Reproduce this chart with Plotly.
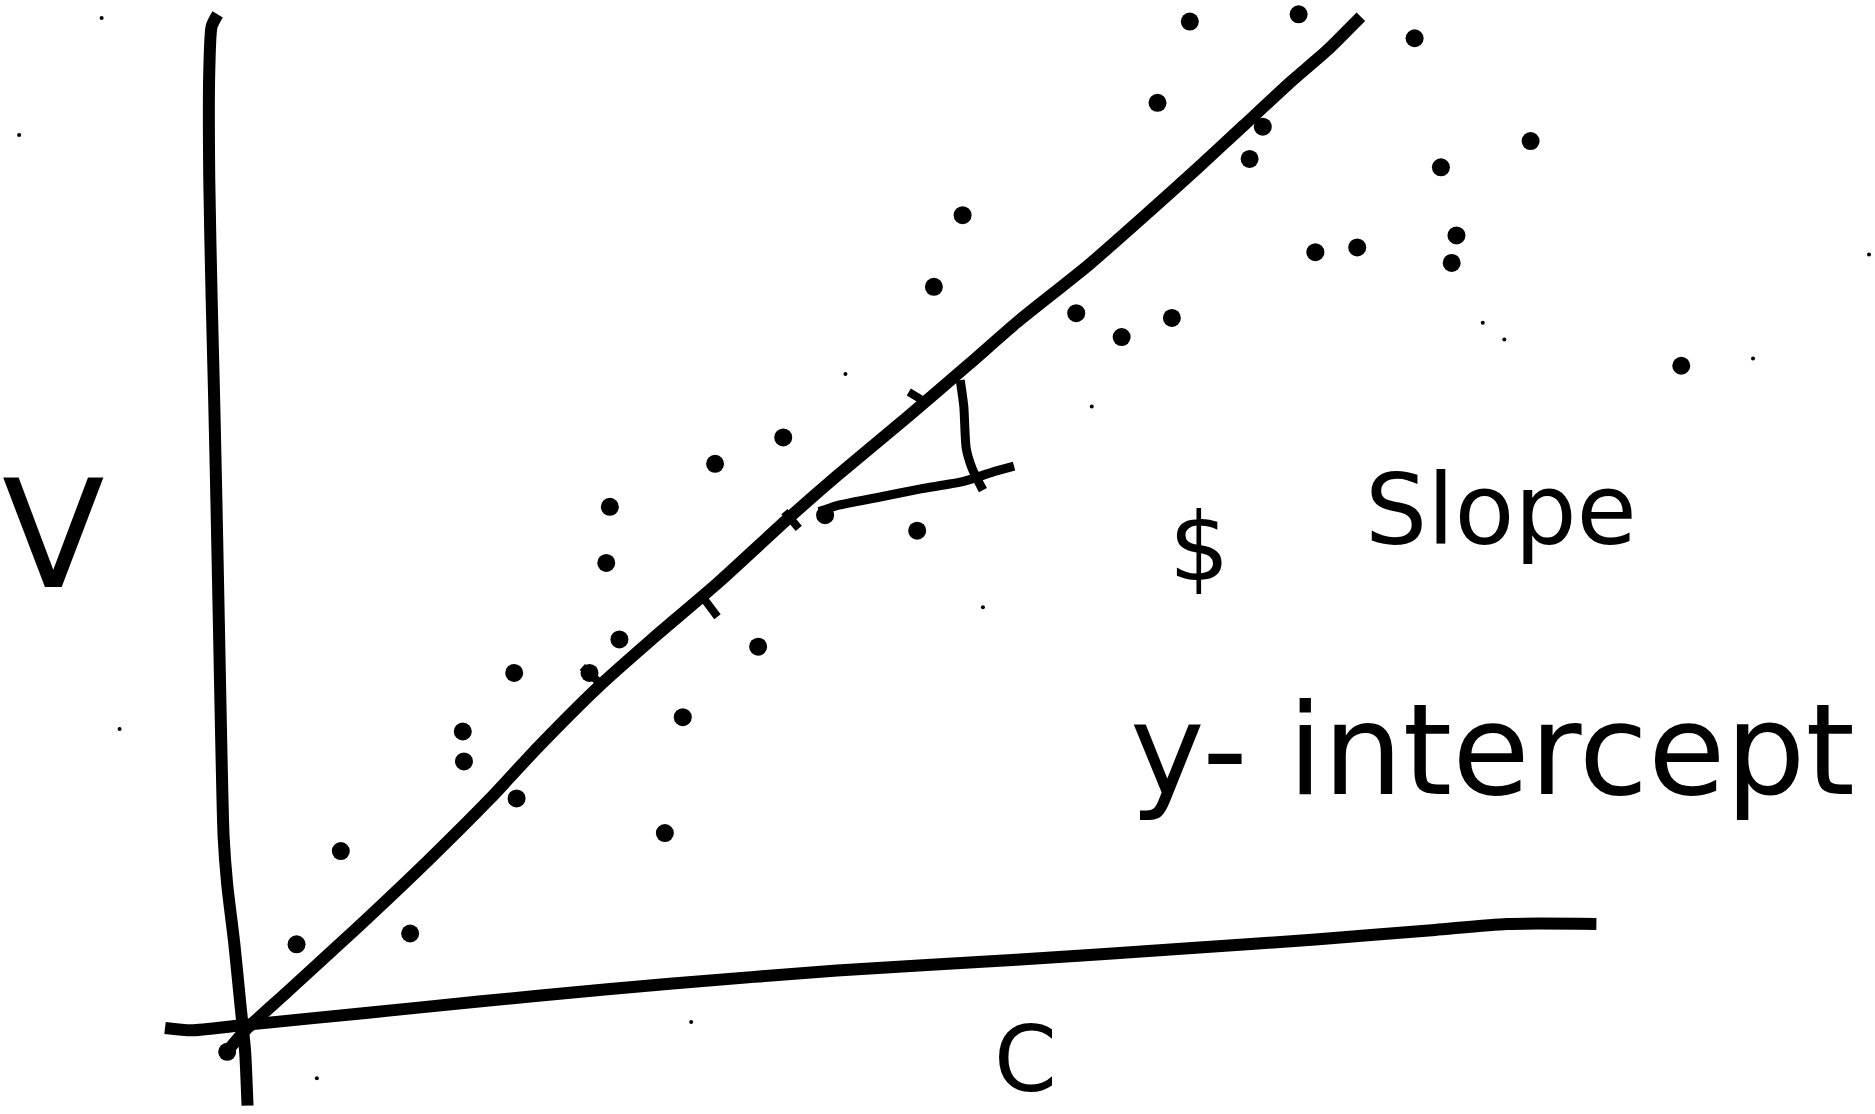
import plotly.graph_objects as go

# Canvas units: 0..1568 across, 0..932 down (y grows downward)
W_UNITS, H_UNITS = 1568, 932

# Hand-drawn vertical axis (V)
axis_v_x = [182, 177, 175, 175, 177, 179, 181, 183, 185, 187, 190, 196, 201, 205, 207]
axis_v_y = [12, 22, 60, 150, 250, 330, 420, 520, 620, 700, 740, 790, 840, 880, 925]

# Hand-drawn horizontal axis (C)
axis_h_x = [138, 160, 200, 260, 350, 450, 560, 700, 850, 1000, 1100, 1200, 1260, 1335]
axis_h_y = [860, 862, 858, 852, 843, 833, 823, 812, 803, 793, 786, 778, 773, 773]

# Best-fit line through the scatter
fit_x = [188, 205, 240, 300, 360, 410, 450, 500, 545, 600, 660, 700, 760, 810, 850,
         910, 960, 1000, 1040, 1080, 1110, 1138]
fit_y = [882, 862, 830, 775, 718, 668, 625, 575, 535, 488, 433, 398, 348, 305, 270,
         222, 178, 142, 105, 68, 42, 14]

# Slope triangle: rise and run strokes
rise_x = [803, 806, 808, 813, 822]
rise_y = [318, 340, 375, 392, 410]
run_x = [848, 830, 805, 770, 735, 700, 685]
run_y = [390, 395, 403, 409, 416, 423, 428]

# Small ticks crossing the fit line
tick_x = [760, 770, None, 588, 600, None, 656, 668, None, 487, 500]
tick_y = [328, 334, None, 500, 516, None, 428, 442, None, 558, 570]

# Measured points
points_x = [995, 1086, 1183, 968, 1056, 1045, 1205, 1280, 805, 781, 1100, 1135, 1218, 1214,
            900, 938, 980, 1406, 655, 598, 510, 507, 518, 634, 430, 493, 571, 387, 388,
            432, 556, 285, 343, 248, 767, 690, 190]
points_y = [18, 12, 32, 86, 106, 133, 140, 118, 180, 240, 211, 207, 197, 220,
            262, 282, 266, 306, 366, 388, 424, 471, 535, 541, 563, 563, 600, 612, 637,
            668, 697, 712, 781, 790, 444, 431, 880]

# Faint specks on the sheet
specks_x = [85, 16, 100, 578, 822, 1563, 1466, 1240, 1258, 913, 707, 265]
specks_y = [15, 113, 610, 855, 508, 213, 300, 270, 284, 340, 313, 902]

# Labels
labels = ["V", "C", "$", "Slope", "y- intercept"]
label_x = [45, 858, 1003, 1255, 1248]
label_y = [448, 886, 458, 427, 628]
label_size = [150, 90, 95, 98, 126]

INK = "#000000"
FONT = "DejaVu Sans, sans-serif"

fig = go.Figure()

def stroke(xs, ys, width):
    fig.add_trace(go.Scatter(
        x=xs, y=ys, mode="lines",
        line=dict(color=INK, width=width, shape="spline", smoothing=0.6),
        hoverinfo="skip", connectgaps=False,
    ))

stroke(axis_v_x, axis_v_y, 12)
stroke(axis_h_x, axis_h_y, 12)
stroke(fit_x, fit_y, 12)
stroke(rise_x, rise_y, 9)
stroke(run_x, run_y, 9)
fig.add_trace(go.Scatter(x=tick_x, y=tick_y, mode="lines",
                         line=dict(color=INK, width=8), hoverinfo="skip"))

fig.add_trace(go.Scatter(x=points_x, y=points_y, mode="markers",
                         marker=dict(color=INK, size=18, line=dict(width=0)),
                         hoverinfo="skip"))
fig.add_trace(go.Scatter(x=specks_x, y=specks_y, mode="markers",
                         marker=dict(color=INK, size=4, line=dict(width=0)),
                         hoverinfo="skip"))

for txt, x, y, s in zip(labels, label_x, label_y, label_size):
    fig.add_annotation(x=x, y=y, text=txt, showarrow=False,
                       xanchor="center", yanchor="middle",
                       font=dict(family=FONT, size=s, color=INK))

fig.update_xaxes(range=[0, W_UNITS], visible=False, fixedrange=True)
fig.update_yaxes(range=[H_UNITS, 0], visible=False, fixedrange=True)
fig.update_layout(
    width=1875, height=1114,
    margin=dict(l=0, r=0, t=0, b=0),
    paper_bgcolor="white", plot_bgcolor="white",
    showlegend=False,
)

fig.write_html("out.html", config={"displayModeBar": False})
